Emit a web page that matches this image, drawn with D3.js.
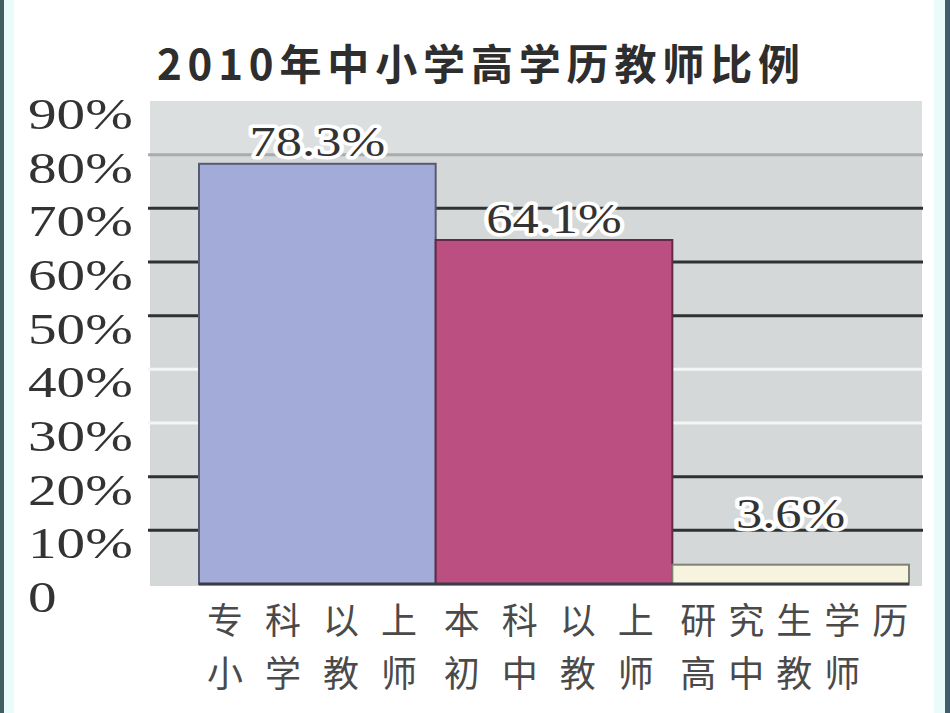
<!DOCTYPE html>
<html>
<head>
<meta charset="utf-8">
<script src="https://cdn.jsdelivr.net/npm/d3@7"></script>
<style>
  body { margin: 0; background: #fff; }
  svg { display: block; }
</style>
</head>
<body>
<div id="chart"></div>
<script>
// data
var title = '2010年中小学高学历教师比例';
var categories = ['专科以上|小学教师', '本科以上|初中教师', '研究生学历|高中教师'];
var values = [78.3, 64.1, 3.6];
var valueLabels = ['78.3%', '64.1%', '3.6%'];
var barColors = ['#a3acd8', '#bb4f82', '#f6f4df'];
var yTicks = [0, 10, 20, 30, 40, 50, 60, 70, 80, 90];

var W = 950, H = 713;

var svg = d3.select('#chart').append('svg')
    .attr('width', W)
    .attr('height', H);

// frame strips left / right
svg.append('rect').attr('x', 0).attr('y', 0).attr('width', 14).attr('height', H).attr('fill', '#eafbfb');
svg.append('rect').attr('x', 0).attr('y', 0).attr('width', 4).attr('height', H).attr('fill', '#415f60');
svg.append('rect').attr('x', 934).attr('y', 0).attr('width', 12).attr('height', H).attr('fill', '#eafbfb');
svg.append('rect').attr('x', 945).attr('y', 0).attr('width', 5).attr('height', H).attr('fill', '#3f5d6c');

var y = d3.scaleLinear().domain([0, 90]).range([584, 101]);
var x = d3.scaleBand().domain(categories).range([199, 909]).paddingInner(0);

// title
svg.append('text')
    .attr('x', 157)
    .attr('y', 80)
    .attr('textLength', 643)
    .attr('lengthAdjust', 'spacing')
    .style('font-family', '"Noto Sans CJK SC", sans-serif')
    .style('font-weight', 700)
    .style('font-size', '42px')
    .attr('fill', '#2e2e2e')
    .text(title);

// plot background
svg.append('rect')
    .attr('x', 150).attr('y', y(90))
    .attr('width', 772).attr('height', y(0) - y(90) + 2)
    .attr('fill', '#d5d8d8');
svg.append('rect')
    .attr('x', 150).attr('y', y(90))
    .attr('width', 772).attr('height', y(80) - y(90))
    .attr('fill', '#dcdfdf');

// gridlines (some print light in the original)
var maxVal = d3.max(values);
var lightTicks = [30, 40];
svg.append('g').selectAll('line')
    .data(yTicks.filter(function(t){ return t > 0 && t < 90; }))
  .enter().append('line')
    .attr('x1', 148).attr('x2', 923)
    .attr('y1', function(d){ return y(d); })
    .attr('y2', function(d){ return y(d); })
    .attr('stroke', function(d){
      if (d > maxVal) return '#a8acac';
      if (lightTicks.indexOf(d) >= 0) return '#f4f6f6';
      return '#2f3232';
    })
    .attr('stroke-width', 3);

// bars
svg.append('g').selectAll('rect')
    .data(values)
  .enter().append('rect')
    .attr('x', function(d, i){ return x(categories[i]); })
    .attr('y', function(d){ return y(d); })
    .attr('width', x.bandwidth())
    .attr('height', function(d){ return y(0) - y(d); })
    .attr('fill', function(d, i){ return barColors[i]; })
    .attr('stroke', function(d, i){ return d3.color(barColors[i]).darker(1.8); })
    .attr('stroke-width', 2);

// baseline
svg.append('line')
    .attr('x1', x.range()[0]).attr('x2', x.range()[1])
    .attr('y1', y(0)).attr('y2', y(0))
    .attr('stroke', '#3a3d45')
    .attr('stroke-width', 3);

// y tick labels (wide serif)
svg.append('g').selectAll('g')
    .data(yTicks)
  .enter().append('g')
    .attr('transform', function(d){ return 'translate(28,' + (y(d) + 28) + ') scale(1.3,1)'; })
  .append('text')
    .style('font-family', '"Liberation Serif", "DejaVu Serif", serif')
    .style('font-size', '44px')
    .attr('fill', '#333')
    .text(function(d){ return d === 0 ? '0' : d + '%'; });

// value labels
svg.append('g').selectAll('g')
    .data(values)
  .enter().append('g')
    .attr('transform', function(d, i){
      var cx = x(categories[i]) + x.bandwidth() / 2;
      return 'translate(' + cx + ',' + (y(Math.max(d + 4, 13)) + 14) + ') scale(1.25,1)';
    })
  .append('text')
    .attr('text-anchor', 'middle')
    .style('font-family', '"Liberation Serif", "DejaVu Serif", serif')
    .style('font-size', '42px')
    .attr('fill', '#333')
    .attr('stroke', '#fff')
    .attr('stroke-width', 7)
    .attr('stroke-linejoin', 'round')
    .attr('paint-order', 'stroke')
    .text(function(d, i){ return valueLabels[i]; });

// category labels, two lines each
var cat = svg.append('g').selectAll('text')
    .data(categories)
  .enter().append('text')
    .style('font-family', '"Noto Sans CJK SC", sans-serif')
    .style('font-size', '36px')
    .attr('fill', '#4a4a4a')
    .style('letter-spacing', function(d){
      var longest = d3.max(d.split('|'), function(s){ return s.length; });
      return longest > 4 ? '12px' : '22px';
    });

cat.selectAll('tspan')
    .data(function(d){ return d.split('|'); })
  .enter().append('tspan')
    .attr('x', function(){ return x(this.parentNode.__data__) + 8; })
    .attr('y', function(d, i){ return 634 + i * 53; })
    .text(function(d){ return d; });
</script>
</body>
</html>
